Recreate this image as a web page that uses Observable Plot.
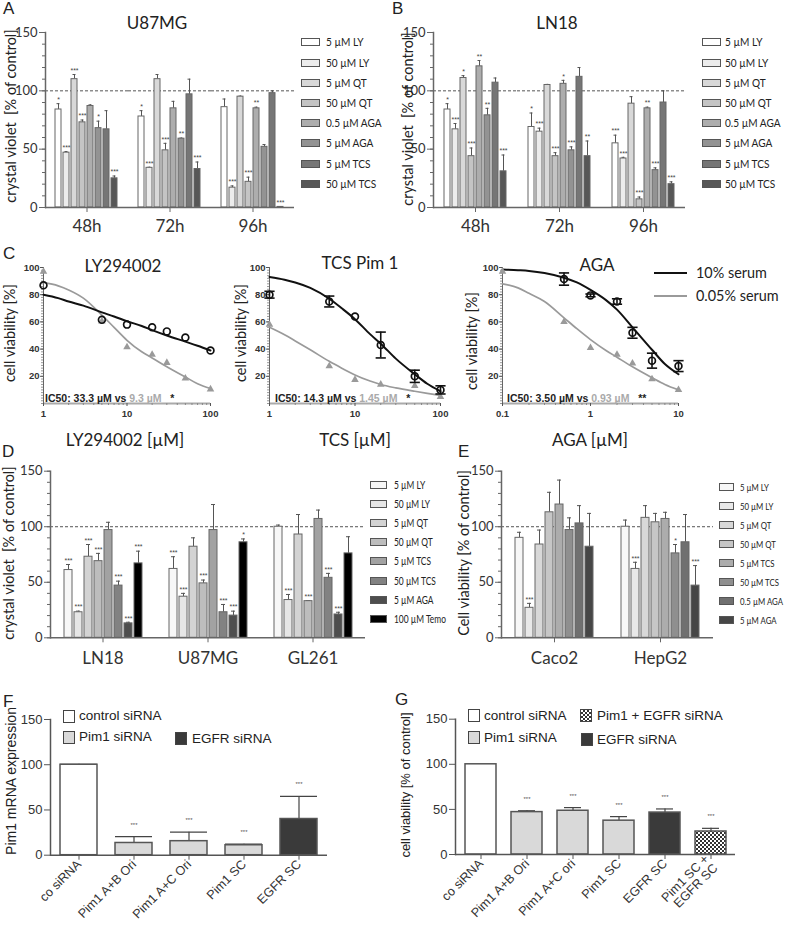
<!DOCTYPE html>
<html><head><meta charset="utf-8">
<script src="https://cdn.jsdelivr.net/npm/d3@7"></script>
<script src="https://cdn.jsdelivr.net/npm/@observablehq/plot@0.6"></script>
<style>
body{margin:0;background:#fff;}
#fig{position:relative;width:785px;height:925px;overflow:hidden;font-family:Lato,sans-serif;color:#222;background:#fff;}
.p{position:absolute;}
.t{position:absolute;white-space:nowrap;line-height:1;}
.sw{position:absolute;box-sizing:border-box;}
</style></head><body>
<svg width="0" height="0" style="position:absolute"><defs>
<pattern id="checker" width="4" height="4" patternUnits="userSpaceOnUse"><rect width="4" height="4" fill="#fff"/><rect width="2" height="2" fill="#333"/><rect x="2" y="2" width="2" height="2" fill="#333"/></pattern>
</defs></svg>
<div id="fig"></div>
<script>
// ---------- DATA ----------
const yMajor = [0, 50, 100, 150];
const yMinor = [0, 10, 20, 30, 40, 50, 60, 70, 80, 90, 100, 110, 120, 130, 140, 150];

// Panels A & B
const timesAB = ["48h", "72h", "96h"];
const seriesAB = ["5 µM LY", "50 µM LY", "5 µM QT", "50 µM QT", "0.5 µM AGA", "5 µM AGA", "5 µM TCS", "50 µM TCS"];
const colorsAB = ["#ffffff", "#ececec", "#d8d8d8", "#c4c4c4", "#adadad", "#939393", "#767676", "#575757"];
const u87Mean = [[84, 47, 110, 73, 87, 68, 67, 25], [78, 34, 110, 49, 85, 59, 97, 33], [86, 17, 95, 22, 85, 52, 98, 0.5]];
const u87Err = [[5, 1, 4, 2, 1, 6, 16, 2], [5, 0.5, 4, 6, 6, 0.5, 13, 6], [7, 1.5, 0.5, 4, 1, 2, 2, 0.3]];
const u87Sig = [["*", "***", "***", "***", "", "*", "", "***"], ["*", "***", "", "***", "", "**", "", "***"], ["", "***", "", "***", "**", "", "", "***"]];
const ln18Mean = [[84, 67, 111, 44, 121, 79, 107, 31], [69, 65, 105, 44, 106, 49, 112, 44], [55, 42, 89, 7, 85, 32, 90, 20]];
const ln18Err = [[5, 5, 2, 7, 5, 6, 4, 14], [12, 3, 0.5, 3, 3, 3, 8, 13], [7, 1, 6, 2, 1, 2, 10, 2]];
const ln18Sig = [["*", "***", "*", "***", "**", "**", "", "***"], ["*", "***", "", "***", "*", "***", "", "**"], ["***", "***", "", "***", "**", "***", "", "***"]];

// Panel C
const cLyDose = [1, 5, 10, 20, 30, 50, 100];
const cLy10 = [87, 61.5, 58, 56, 53, 48.5, 39];
const cLy10Err = [0, 0, 0, 0, 0, 0, 0];
const cLy005 = [97, 60.5, 41.5, 36, 30, 18.5, 10.5];
const cLyFitDose = [1, 1.5, 2, 3, 5, 7, 10, 15, 20, 30, 50, 70, 100];
const cLyFit10 = [80, 77.5, 75, 72, 67, 64, 60.5, 57, 54, 50, 45.5, 42.5, 39];
const cLyFit005 = [89, 86.5, 83.5, 77.5, 65, 56, 46.5, 38, 33.5, 27, 19.5, 14.5, 11];

const cTcsDose = [1, 5, 10, 20, 50, 100];
const cTcs10 = [80, 75, 64, 43, 20, 10];
const cTcs10Err = [2.5, 4, 0, 9.5, 4.5, 3];
const cTcs005 = [58, 27.5, 17.5, 14, 13, 5];
const cTcsFitDose = [1, 1.5, 2, 3, 5, 7, 10, 15, 20, 30, 50, 70, 100];
const cTcsFit10 = [93, 91, 89, 85, 77, 70, 62, 51, 44, 33, 21.5, 14.5, 9];
const cTcsFit005 = [56, 50.5, 46, 39.5, 31, 26, 21, 16.5, 14, 11.5, 9, 7.5, 6];

const cAgaDose10 = [0.5, 1, 2, 3, 5, 10];
const cAga10 = [91.5, 79.5, 75, 52, 31.5, 27.5];
const cAga10Err = [4.5, 1, 2, 4, 5.5, 4];
const cAgaDose005 = [0.1, 0.5, 1, 2, 3, 5, 10];
const cAga005 = [97, 60, 41, 36, 29.5, 18, 10];
const cAgaFitDose = [0.1, 0.15, 0.2, 0.3, 0.5, 0.7, 1, 1.5, 2, 3, 5, 7, 10];
const cAgaFit10 = [98.5, 98, 97.5, 96, 92.5, 89, 83.5, 76, 69, 56, 39.5, 29, 21.5];
const cAgaFit005 = [88, 85, 81, 75, 63, 55, 47, 39, 34, 27, 19, 14, 10];
const cYMajor = [20, 40, 60, 80, 100];
const cYMinor = d3.range(0, 101, 2);

// Panel D
const linesD = ["LN18", "U87MG", "GL261"];
const seriesD = ["5 µM LY", "50 µM LY", "5 µM QT", "50 µM QT", "5 µM TCS", "50 µM TCS", "5 µM AGA", "100 µM Temo"];
const colorsD = ["#f7f7f7", "#e6e6e6", "#d3d3d3", "#bdbdbd", "#a2a2a2", "#828282", "#4e4e4e", "#000000"];
const dMean = [[61, 23, 73, 69, 97, 47, 13, 67], [62, 37, 82, 49, 97, 23, 20, 86], [100, 34, 93, 33, 107, 54, 21, 76]];
const dErr = [[5, 1, 11, 7, 7, 4, 1, 11], [11, 3, 8, 3, 23, 7, 4, 3], [1.5, 5, 18, 0.5, 8, 4, 2, 15]];
const dSig = [["***", "***", "***", "***", "", "***", "***", "***"], ["***", "***", "", "***", "", "***", "***", "*"], ["", "***", "", "***", "", "***", "***", ""]];

// Panel E
const linesE = ["Caco2", "HepG2"];
const seriesE = ["5 µM LY", "50 µM LY", "5 µM QT", "50 µM QT", "5 µM TCS", "50 µM TCS", "0.5 µM AGA", "5 µM AGA"];
const colorsE = ["#f7f7f7", "#e8e8e8", "#d8d8d8", "#c6c6c6", "#acacac", "#8f8f8f", "#707070", "#464646"];
const eMean = [[90, 27, 84, 113, 120, 97, 103, 82], [100, 62, 108, 104, 107, 76, 86, 47]];
const eErr = [[5, 4, 13, 18, 22, 11, 16, 30], [6, 6, 11, 8, 6, 8, 25, 18]];
const eSig = [["", "***", "", "", "", "", "", ""], ["", "***", "", "", "", "*", "", "***"]];

// Panel F
const fCats = ["co siRNA", "Pim1 A+B Ori", "Pim1 A+C Ori", "Pim1 SC", "EGFR SC"];
const fMean = [100, 13.5, 15.5, 11, 40];
const fErr = [0.5, 7, 10, 1.2, 25];
const fSig = ["", "***", "***", "***", "***"];
const fShade = ["#ffffff", "#d9d9d9", "#d9d9d9", "#d9d9d9", "#3a3a3a"];

// Panel G
const gCats = ["co siRNA", "Pim1 A+B Ori", "Pim1 A+C ori", "Pim1 SC", "EGFR SC", "Pim1 SC +\nEGFR SC"];
const gMean = [100, 47, 48.5, 37.5, 46.5, 25.5];
const gErr = [0, 1.5, 3.5, 4.5, 4, 3.5];
const gSig = ["", "***", "***", "***", "***", "***"];
const gShade = ["#ffffff", "#d9d9d9", "#d9d9d9", "#d9d9d9", "#3a3a3a", "url(#checker)"];

// ---------- HELPERS ----------
const fig = document.getElementById("fig");
function place(node, x, y) {
  const d = document.createElement("div");
  d.className = "p"; d.style.left = x + "px"; d.style.top = y + "px";
  d.appendChild(node); fig.appendChild(d);
}
function addText(html, x, y, o = {}) {
  const d = document.createElement("div");
  d.className = "t";
  d.innerHTML = html;
  d.style.left = x + "px"; d.style.top = y + "px";
  d.style.fontSize = (o.size || 14) + "px";
  d.style.fontFamily = o.family || "Lato";
  d.style.fontWeight = o.weight || "normal";
  d.style.color = o.color || "#222";
  if (o.spacing) d.style.letterSpacing = o.spacing + "px";
  const tx = o.anchor === "middle" ? "-50%" : "0";
  let tf = `translate(${tx},-50%)` + (o.rotate ? " rotate(-90deg)" : "");
  if (o.squeeze) { tf += ` scaleX(${o.squeeze})`; d.style.transformOrigin = "left center"; }
  d.style.transform = tf;
  fig.appendChild(d);
}
function swatch(x, y, w, h, bg, border) {
  const d = document.createElement("div");
  d.className = "sw";
  d.style.left = x + "px"; d.style.top = y + "px";
  d.style.width = w + "px"; d.style.height = h + "px";
  d.style.background = bg;
  d.style.border = border;
  fig.appendChild(d);
}
function legendRows(labels, colors, o) {
  labels.forEach((l, i) => {
    const cy = o.y0 + i * o.dy;
    swatch(o.x, cy - o.h / 2, o.w, o.h, colors[i], o.border || "1px solid #555");
    addText(l, o.tx, cy, {size: o.size, family: "Lato", squeeze: o.squeeze, spacing: o.spacing});
  });
}

const hline = {draw(ctx, size) { const w = Math.sqrt(size) * 0.9; ctx.moveTo(-w, 0); ctx.lineTo(w, 0); }};

function groupedBars(o) {
  const rows = [];
  o.groups.forEach((g, gi) => o.series.forEach((s, si) => rows.push({
    group: g, series: s, value: o.mean[gi][si], err: o.err[gi][si], sig: o.sig[gi][si]
  })));
  const top = d => d.value + d.err;
  return Plot.plot({
    width: o.width, height: o.height,
    marginLeft: o.ml, marginRight: o.mr, marginTop: o.mt, marginBottom: o.mb,
    style: {fontFamily: "Lato", fontSize: "13px", background: "none", color: "#333", overflow: "visible"},
    fx: {domain: o.groups, padding: 0, label: null},
    x: {domain: o.series, paddingInner: o.pi, paddingOuter: o.po, axis: null},
    y: {domain: [0, 150], label: null},
    color: {domain: o.series, range: o.colors},
    marks: [
      Plot.ruleY([100], {stroke: "#555", strokeDasharray: "3,2"}),
      Plot.ruleX(rows, {fx: "group", x: "series", y1: "value", y2: top, stroke: "#555", strokeWidth: 1}),
      Plot.tickY(rows, {fx: "group", x: "series", y: top, stroke: "#555", insetLeft: o.cap, insetRight: o.cap}),
      Plot.barY(rows, {fx: "group", x: "series", y: "value", fill: "series", stroke: "#666", strokeWidth: 1}),
      Plot.text(rows, {fx: "group", x: "series", y: top, text: "sig", dy: -4, fontSize: 7, fill: "#444", fontFamily: "Liberation Sans"}),
      Plot.ruleY([0], {stroke: "#666", strokeWidth: 1.5}),
      Plot.frame({anchor: "left", facetAnchor: "left", stroke: "#666", strokeWidth: 1.5}),
      Plot.axisY({ticks: yMajor, tickSize: 6, tickPadding: 2, label: null, stroke: "#666"}),
      Plot.axisY({ticks: yMinor, tickSize: 3, text: null, label: null, stroke: "#666"}),
      Plot.axisFx({anchor: "bottom", tickSize: 5, tickPadding: o.fxPad, label: null, fontSize: 17, fontFamily: "Lato", stroke: "#666"})
    ]
  });
}

function dosePlot(o) {
  const fit10 = o.fitDose.map((d, i) => ({dose: d, v: o.fit10[i]}));
  const fit005 = o.fitDose.map((d, i) => ({dose: d, v: o.fit005[i]}));
  const p10 = o.dose10.map((d, i) => ({dose: d, v: o.v10[i], e: o.e10[i]}));
  const p005 = o.dose005.map((d, i) => ({dose: d, v: o.v005[i]}));
  const withErr = p10.filter(d => d.e > 0);
  return Plot.plot({
    width: o.width, height: o.height,
    marginLeft: o.ml, marginRight: o.mr, marginTop: o.mt, marginBottom: o.mb,
    style: {fontFamily: "Liberation Sans", fontWeight: "bold", fontSize: "9.5px", background: "none", color: "#333", overflow: "visible"},
    x: {type: "log", domain: o.xDomain, label: null},
    y: {domain: [0, 100], label: null},
    marks: [
      Plot.ruleY([0], {stroke: "#aaa", strokeWidth: 2}),
      Plot.frame({anchor: "left", stroke: "#666"}),
      Plot.axisY({ticks: cYMinor, tickSize: 2, text: null, label: null, stroke: "#999"}),
      Plot.axisY({ticks: cYMajor, tickSize: 3, tickPadding: 1, label: null, stroke: "#555"}),
      Plot.axisX({ticks: o.xMinor, tickSize: 2, text: null, label: null, stroke: "#888"}),
      Plot.axisX({ticks: o.xMajor, tickSize: 3, tickPadding: 4, label: null, tickFormat: d => String(d), stroke: "#555"}),
      Plot.line(fit005, {x: "dose", y: "v", stroke: "#9a9a9a", strokeWidth: 1.7, curve: "monotone-x"}),
      Plot.line(fit10, {x: "dose", y: "v", stroke: "#111", strokeWidth: 2, curve: "monotone-x"}),
      Plot.dot(p005, {x: "dose", y: "v", symbol: "triangle", fill: "#9a9a9a", r: 2.8}),
      Plot.ruleX(withErr, {x: "dose", y1: d => d.v - d.e, y2: d => d.v + d.e, stroke: "#111", strokeWidth: 1.6}),
      Plot.dot(withErr, {x: "dose", y: d => d.v + d.e, symbol: hline, stroke: "#111", strokeWidth: 1.6, r: 3.2}),
      Plot.dot(withErr, {x: "dose", y: d => d.v - d.e, symbol: hline, stroke: "#111", strokeWidth: 1.6, r: 3.2}),
      Plot.dot(p10, {x: "dose", y: "v", r: 3.4, stroke: "#111", strokeWidth: 1.7, fill: "none"})
    ]
  });
}

function sirnaPlot(o) {
  const rows = o.cats.map((c, i) => ({cat: c, value: o.mean[i], err: o.err[i], sig: o.sig[i], shade: o.shade[i]}));
  const withErr = rows.filter(d => d.err > 0);
  const top = d => d.value + d.err;
  return Plot.plot({
    width: o.width, height: o.height,
    marginLeft: o.ml, marginRight: o.mr, marginTop: o.mt, marginBottom: o.mb,
    style: {fontFamily: "Liberation Sans", fontSize: "13px", background: "none", color: "#333", overflow: "visible"},
    x: {domain: o.cats, paddingInner: o.pi, paddingOuter: o.po, label: null},
    y: {domain: [0, 150], label: null},
    color: {type: "identity"},
    marks: [
      Plot.ruleX(withErr, {x: "cat", y1: "value", y2: top, stroke: "#444", strokeWidth: 1.2}),
      Plot.tickY(withErr, {x: "cat", y: top, stroke: "#444", strokeWidth: 1.2, insetLeft: o.cap, insetRight: o.cap}),
      Plot.barY(rows, {x: "cat", y: "value", fill: "shade", stroke: "#555", strokeWidth: 1.5}),
      Plot.text(rows, {x: "cat", y: top, text: "sig", dy: -12, fontSize: 6, fill: "#555"}),
      Plot.ruleY([0], {stroke: "#555", strokeWidth: 1.5}),
      Plot.frame({anchor: "left", stroke: "#555", strokeWidth: 1.5}),
      Plot.axisY({ticks: yMajor, tickSize: 6, tickPadding: 2, label: null, stroke: "#555"}),
      Plot.axisX({tickRotate: -45, tickSize: 5, tickPadding: 2, label: null, fontSize: 12.6, stroke: "#555"})
    ]
  });
}

// ---------- PANEL A ----------
place(groupedBars({groups: timesAB, series: seriesAB, colors: colorsAB, mean: u87Mean, err: u87Err, sig: u87Sig,
  width: 300, height: 205, ml: 44, mr: 5, mt: 7, mb: 23, pi: 0.2, po: 1.08, cap: 1.5, fxPad: 7}), 0, 25);
addText("A", 3, 8, {size: 17, family: "Liberation Sans"});
addText("U87MG", 157, 22, {size: 17, anchor: "middle"});
addText("crystal violet&nbsp; [% of control]", 11, 116, {size: 14.5, anchor: "middle", rotate: true});
legendRows(seriesAB, colorsAB, {x: 301, y0: 42.3, dy: 20.2, w: 19, h: 8, tx: 326, size: 12, squeeze: 0.84});

// ---------- PANEL B ----------
place(groupedBars({groups: timesAB, series: seriesAB, colors: colorsAB, mean: ln18Mean, err: ln18Err, sig: ln18Sig,
  width: 300, height: 205, ml: 44, mr: 3, mt: 7, mb: 23, pi: 0.2, po: 1.08, cap: 1.5, fxPad: 7}), 388, 25);
addText("B", 392, 8, {size: 17, family: "Liberation Sans"});
addText("LN18", 557, 22, {size: 17, anchor: "middle"});
addText("crystal violet&nbsp; [% of control]", 408, 119, {size: 14.5, anchor: "middle", rotate: true});
legendRows(seriesAB, colorsAB, {x: 702, y0: 42.3, dy: 20.2, w: 19, h: 8, tx: 725, size: 12, squeeze: 0.84});

// ---------- PANEL C ----------
const cXMinorLin = [2, 3, 4, 5, 6, 7, 8, 9, 20, 30, 40, 50, 60, 70, 80, 90];
const cXMinorAga = [0.2, 0.3, 0.4, 0.5, 0.6, 0.7, 0.8, 0.9, 2, 3, 4, 5, 6, 7, 8, 9];
place(dosePlot({width: 215, height: 185, ml: 43, mr: 5, mt: 27, mb: 22, xDomain: [1, 100], xMajor: [1, 10, 100], xMinor: cXMinorLin,
  fitDose: cLyFitDose, fit10: cLyFit10, fit005: cLyFit005, dose10: cLyDose, v10: cLy10, e10: cLy10Err, dose005: cLyDose, v005: cLy005}), 0, 240);
place(dosePlot({width: 220, height: 185, ml: 43, mr: 6, mt: 27, mb: 22, xDomain: [1, 100], xMajor: [1, 10, 100], xMinor: cXMinorLin,
  fitDose: cTcsFitDose, fit10: cTcsFit10, fit005: cTcsFit005, dose10: cTcsDose, v10: cTcs10, e10: cTcs10Err, dose005: cTcsDose, v005: cTcs005}), 226, 240);
place(dosePlot({width: 225, height: 185, ml: 43, mr: 6, mt: 27, mb: 22, xDomain: [0.1, 10], xMajor: [0.1, 1, 10], xMinor: cXMinorAga,
  fitDose: cAgaFitDose, fit10: cAgaFit10, fit005: cAgaFit005, dose10: cAgaDose10, v10: cAga10, e10: cAga10Err, dose005: cAgaDose005, v005: cAga005}), 459, 240);
addText("C", 3, 253, {size: 17, family: "Liberation Sans"});
addText("LY294002", 123, 265, {size: 17, anchor: "middle"});
addText("TCS Pim 1", 360, 262, {size: 17, anchor: "middle"});
addText("AGA", 597, 264, {size: 17, anchor: "middle"});
addText("cell viability [%]", 10, 333, {size: 14.5, anchor: "middle", rotate: true});
addText("cell viability [%]", 241, 333, {size: 14.5, anchor: "middle", rotate: true});
addText("cell viability [%]", 472, 341, {size: 14.5, anchor: "middle", rotate: true});
addText("LY294002 [µM]", 125, 439, {size: 17, anchor: "middle"});
addText("TCS [µM]", 355, 439, {size: 17, anchor: "middle"});
addText("AGA [µM]", 590, 439, {size: 17, anchor: "middle"});
const icStyle = {size: 10.5, family: "Liberation Sans", weight: "bold"};
addText('IC50: 33.3 µM vs <span style="color:#aaa">9.3 µM</span>&nbsp;&nbsp; *', 45, 398, icStyle);
addText('IC50: 14.3 µM vs <span style="color:#aaa">1.45 µM</span>&nbsp;&nbsp; *', 275, 398, icStyle);
addText('IC50: 3.50 µM vs <span style="color:#aaa">0.93 µM</span>&nbsp;&nbsp; **', 507, 398, icStyle);
swatch(654, 272, 33, 2, "#111", "none");
swatch(654, 295, 33, 2, "#9a9a9a", "none");
addText("10% serum", 696, 273, {size: 15.5, squeeze: 0.93});
addText("0.05% serum", 696, 296, {size: 15.5, squeeze: 0.93});

// ---------- PANEL D ----------
place(groupedBars({groups: linesD, series: seriesD, colors: colorsD, mean: dMean, err: dErr, sig: dSig,
  width: 368, height: 205, ml: 49, mr: 3, mt: 8.7, mb: 29.7, pi: 0.25, po: 0.95, cap: 2, fxPad: 9}), 0, 462);
addText("D", 2, 451, {size: 17, family: "Liberation Sans"});
addText("crystal violet&nbsp; [% of control]", 9, 553, {size: 14.5, anchor: "middle", rotate: true});
legendRows(seriesD, colorsD, {x: 370, y0: 485, dy: 19.1, w: 17, h: 8, tx: 394, size: 10.5, squeeze: 0.8});

// ---------- PANEL E ----------
place(groupedBars({groups: linesE, series: seriesE, colors: colorsE, mean: eMean, err: eErr, sig: eSig,
  width: 265, height: 205, ml: 50, mr: 2, mt: 8.7, mb: 29.7, pi: 0.25, po: 1.0, cap: 2, fxPad: 9}), 450, 462);
addText("E", 458, 451, {size: 17, family: "Liberation Sans"});
addText("Cell viability [% of control]", 464, 553, {size: 14.5, anchor: "middle", rotate: true});
legendRows(seriesE, colorsE, {x: 719, y0: 487, dy: 19, w: 15, h: 8, tx: 740, size: 10, squeeze: 0.78});

// ---------- PANEL F ----------
place(sirnaPlot({cats: fCats, mean: fMean, err: fErr, sig: fSig, shade: fShade,
  width: 335, height: 215, ml: 50, mr: 8, mt: 11, mb: 68.3, pi: 0.33, po: 0.18, cap: 0}), 0, 708);
addText("F", 3, 701, {size: 17, family: "Liberation Sans"});
addText("Pim1 mRNA expression", 11, 781, {size: 14, family: "Liberation Sans", anchor: "middle", rotate: true});
swatch(63, 710, 12, 13, "#fff", "1.5px solid #444");
swatch(63, 731, 12, 13, "#d9d9d9", "1.5px solid #444");
swatch(175, 732, 12, 13, "#3a3a3a", "1.5px solid #444");
addText("control siRNA", 79, 716, {size: 13.5, family: "Liberation Sans"});
addText("Pim1 siRNA", 79, 737, {size: 13.5, family: "Liberation Sans"});
addText("EGFR siRNA", 192, 739, {size: 13.5, family: "Liberation Sans"});

// ---------- PANEL G ----------
place(sirnaPlot({cats: gCats, mean: gMean, err: gErr, sig: gSig, shade: gShade,
  width: 340, height: 215, ml: 55, mr: 5, mt: 10.7, mb: 69, pi: 0.336, po: 0.17, cap: 7}), 400, 708);
addText("G", 395, 699, {size: 17, family: "Liberation Sans"});
addText("cell viability [% of control]", 405, 785, {size: 13, family: "Liberation Sans", anchor: "middle", rotate: true});
swatch(468, 709, 12, 13, "#fff", "1.5px solid #444");
swatch(468, 731, 12, 13, "#d9d9d9", "1.5px solid #444");
swatch(580, 709, 12, 13, "repeating-conic-gradient(#333 0 25%, #fff 0 50%) 0 0/4px 4px", "1.5px solid #444");
swatch(581, 733, 12, 13, "#3a3a3a", "1.5px solid #444");
addText("control siRNA", 484, 716, {size: 13.5, family: "Liberation Sans"});
addText("Pim1 siRNA", 484, 738, {size: 13.5, family: "Liberation Sans"});
addText("Pim1 + EGFR siRNA", 597, 716, {size: 13.5, family: "Liberation Sans"});
addText("EGFR siRNA", 597, 740, {size: 13.5, family: "Liberation Sans"});
</script></body></html>
